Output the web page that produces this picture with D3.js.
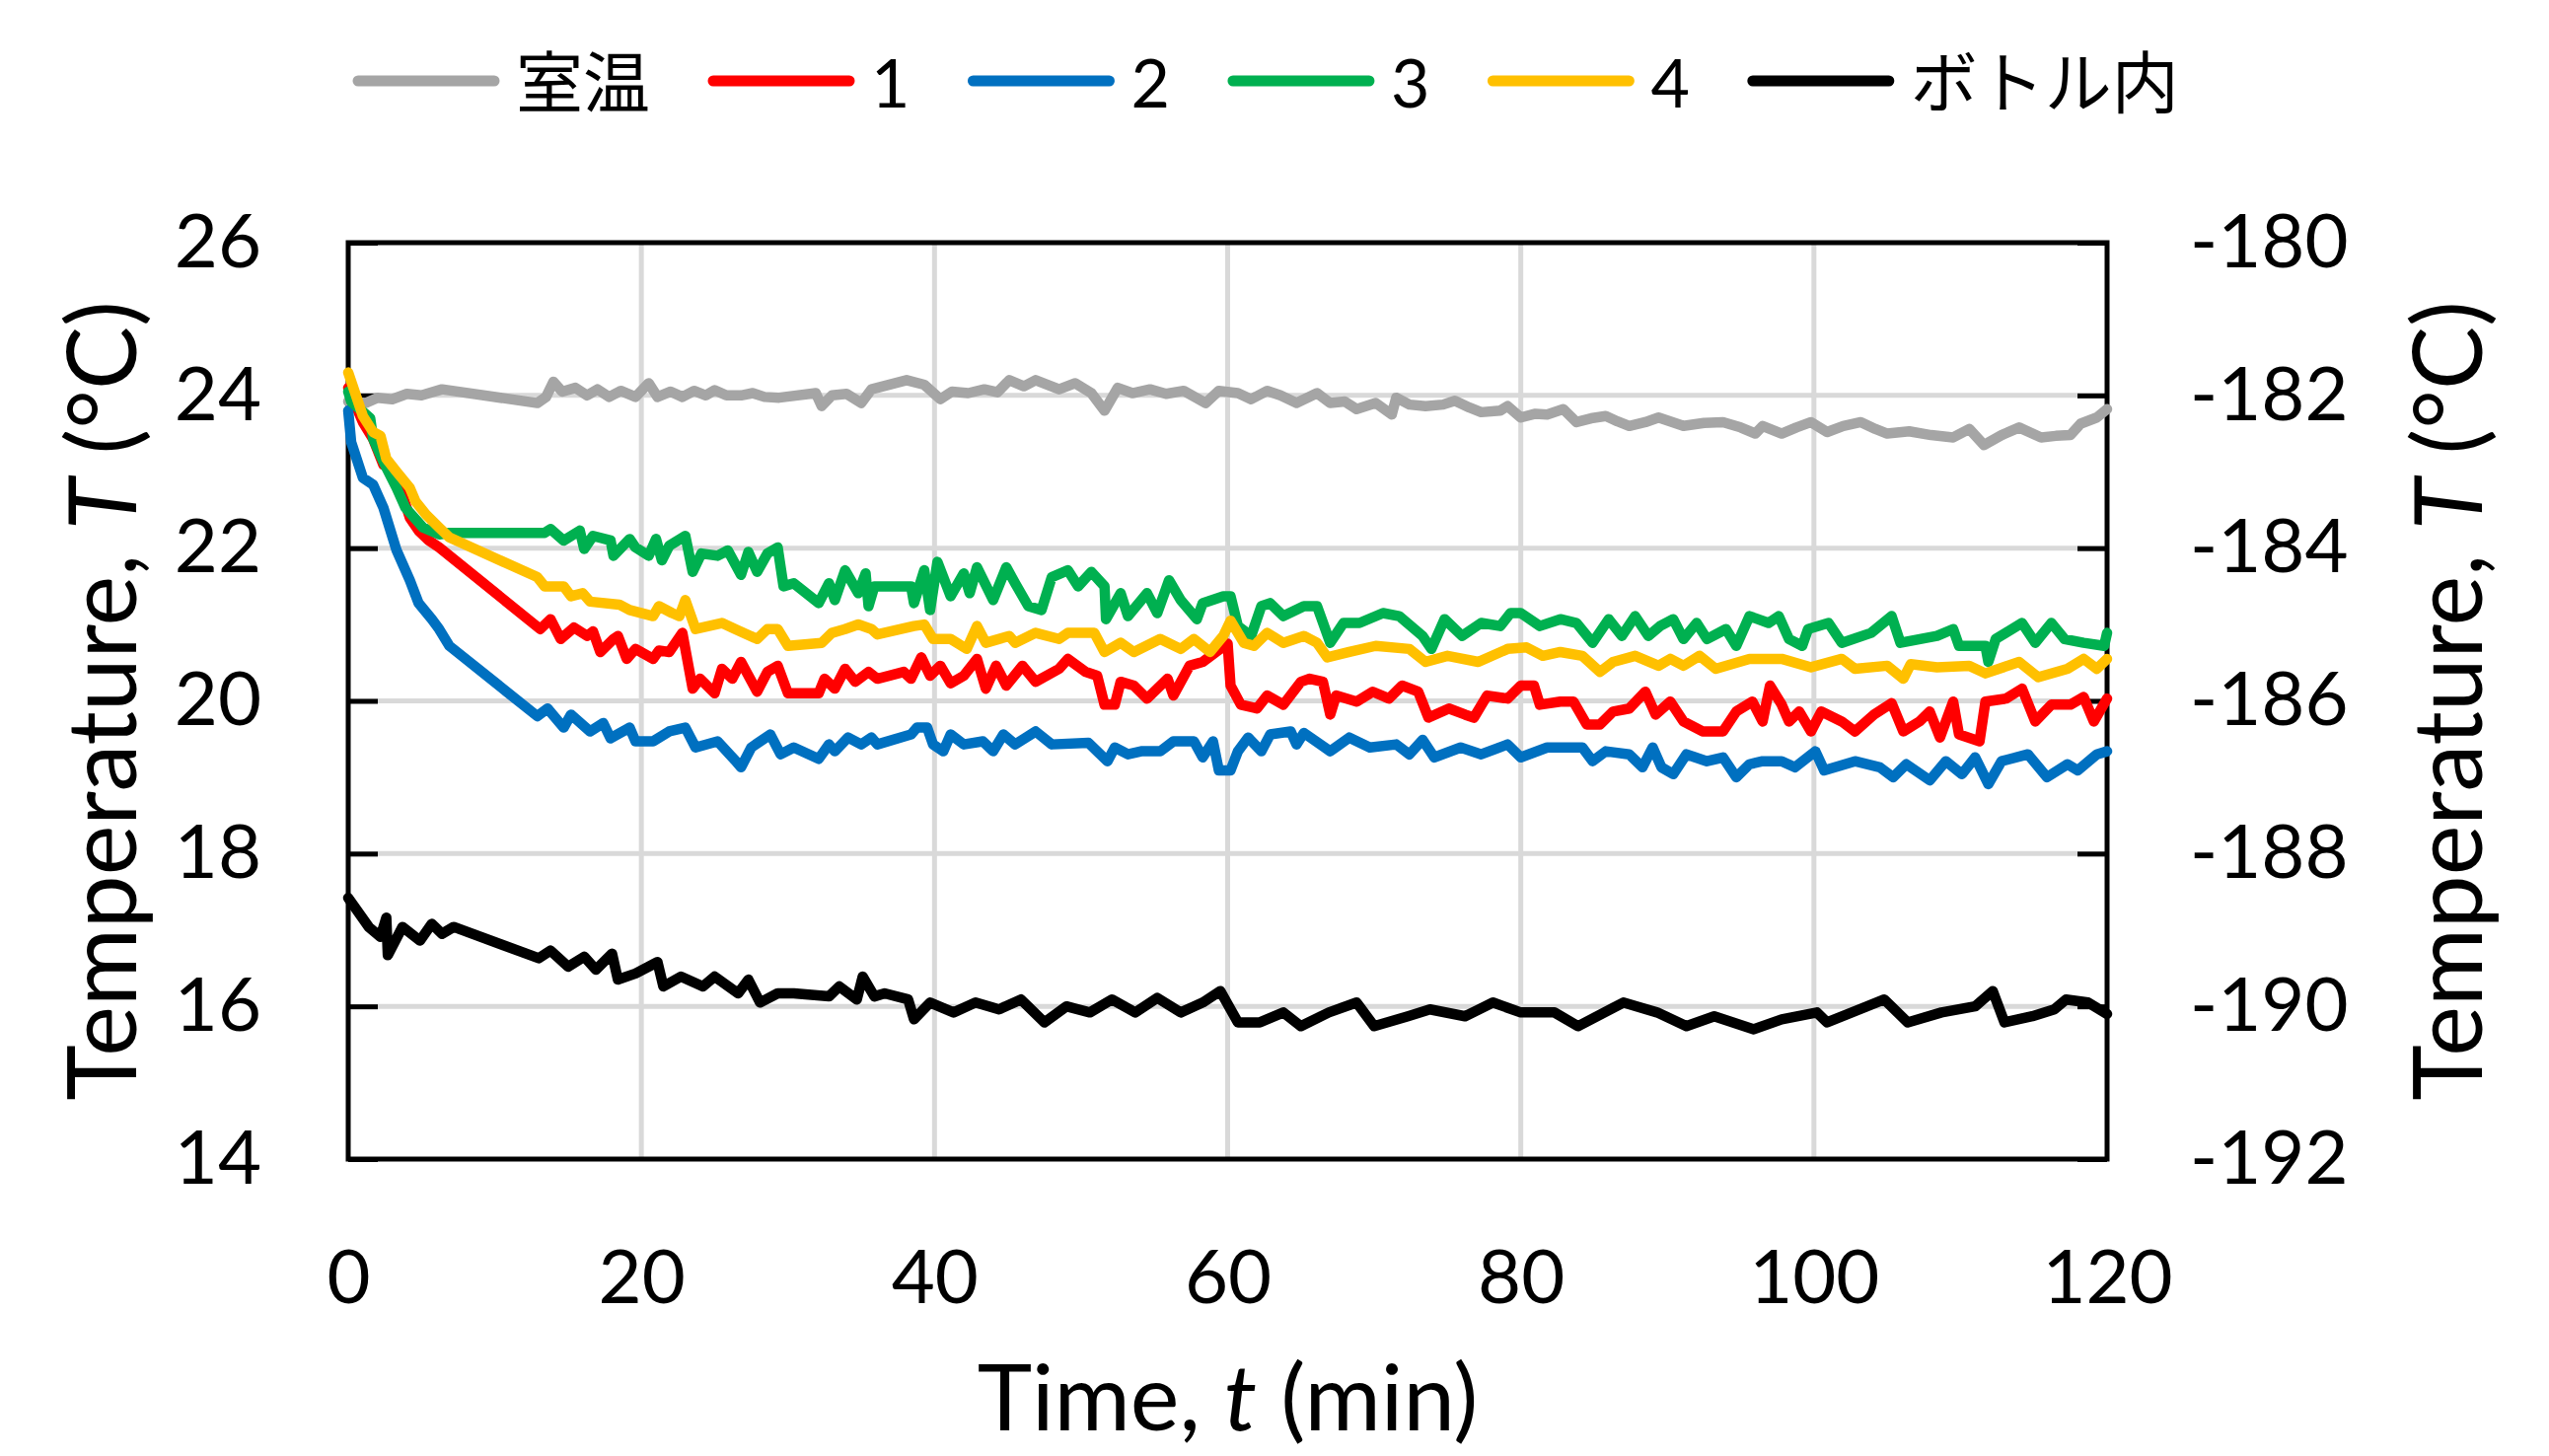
<!DOCTYPE html>
<html>
<head>
<meta charset="utf-8">
<script src="https://cdn.jsdelivr.net/npm/d3@7"></script>
<style>
  html, body { margin: 0; padding: 0; background: #fff; }
  svg { display: block; }
  text { font-family: Lato, "Noto Sans CJK JP", sans-serif; fill: #000; }
</style>
</head>
<body>
<script>
// Readings: [time (min), temperature (°C)]
const seriesNames = ['室温', '1', '2', '3', '4', 'ボトル内'];
const seriesColors = ['#A5A5A5', '#FF0000', '#0070C0', '#00B050', '#FFC000', '#000000'];

const roomTemp = [[0,23.92],[1.2,23.9],[2,23.97],[3,23.95],[4,24.02],[5,24.0],[6.4,24.08],[12.9,23.9],[13.5,23.98],[14,24.18],[14.6,24.05],[15.5,24.1],[16.3,24.0],[17,24.08],[17.8,23.98],[18.6,24.06],[19.6,23.98],[20.5,24.16],[21.1,23.98],[22,24.05],[22.8,23.98],[23.6,24.06],[24.4,24.0],[25,24.07],[25.8,24.0],[26.8,24.0],[27.6,24.03],[28.4,23.98],[29.4,23.97],[31.9,24.03],[32.3,23.86],[33,24.0],[34,24.02],[35,23.9],[35.7,24.08],[38.1,24.2],[39.3,24.14],[40.4,23.95],[41.2,24.05],[42.3,24.03],[43.4,24.08],[44.3,24.04],[45.1,24.2],[46.1,24.12],[46.9,24.2],[48.5,24.08],[49.6,24.16],[50.7,24.03],[51.6,23.8],[52.5,24.1],[53.5,24.03],[54.7,24.08],[55.8,24.02],[57,24.06],[58.5,23.9],[59.4,24.06],[60.7,24.03],[61.6,23.95],[62.7,24.06],[63.6,24.0],[64.7,23.9],[66.1,24.03],[67,23.9],[68,23.92],[68.8,23.82],[70.1,23.9],[71.2,23.75],[71.5,23.97],[72.4,23.88],[73.5,23.86],[74.7,23.88],[75.5,23.93],[76.5,23.84],[77.3,23.78],[78.6,23.8],[79.1,23.86],[80,23.71],[81,23.76],[81.8,23.75],[82.9,23.82],[83.8,23.65],[84.8,23.7],[85.8,23.73],[86.6,23.66],[87.4,23.6],[88.5,23.65],[89.4,23.71],[90.2,23.66],[91.1,23.6],[92.5,23.64],[93.8,23.65],[95,23.58],[96,23.5],[96.5,23.6],[97.8,23.5],[98.8,23.58],[99.8,23.65],[100.9,23.52],[102,23.6],[103.2,23.65],[104.2,23.56],[105,23.5],[106.5,23.53],[108,23.48],[109.5,23.45],[110.6,23.56],[111.6,23.35],[112.8,23.48],[114,23.58],[115.5,23.45],[116.5,23.47],[117.5,23.48],[118.2,23.63],[119.3,23.71],[120,23.82]];

const point1 = [[0,24.1],[1,23.65],[1.7,23.43],[2.4,23.09],[3,23.04],[3.7,22.7],[4.2,22.4],[4.8,22.23],[5.5,22.1],[6.2,22.01],[13.1,20.94],[13.8,21.07],[14.5,20.81],[15.4,20.96],[16.3,20.85],[16.7,20.91],[17.2,20.64],[18.1,20.81],[18.4,20.85],[19,20.55],[19.6,20.68],[20.8,20.55],[21.2,20.66],[21.9,20.64],[22.8,20.89],[23.5,20.16],[24,20.29],[25,20.1],[25.5,20.42],[26.2,20.29],[26.8,20.51],[27.9,20.12],[28.6,20.38],[29.3,20.46],[30,20.1],[32.1,20.1],[32.5,20.29],[33.2,20.16],[33.9,20.42],[34.6,20.25],[35.5,20.38],[36.1,20.29],[37.9,20.38],[38.4,20.29],[39.1,20.57],[39.7,20.33],[40.4,20.46],[41.1,20.23],[42,20.33],[42.9,20.55],[43.5,20.16],[44.2,20.46],[44.9,20.2],[46,20.46],[46.9,20.25],[48.5,20.42],[49.1,20.55],[50.3,20.38],[51.1,20.33],[51.6,19.95],[52.3,19.95],[52.7,20.25],[53.6,20.2],[54.5,20.03],[55.9,20.29],[56.3,20.07],[57.4,20.46],[58.3,20.51],[59.2,20.64],[60,20.75],[60.2,20.2],[60.9,19.95],[62,19.9],[62.7,20.07],[63.8,19.95],[65,20.25],[65.6,20.29],[66.5,20.25],[67,19.82],[67.4,20.07],[68.8,19.99],[69.9,20.12],[71,20.03],[71.9,20.2],[73,20.12],[73.7,19.78],[75.1,19.9],[76.2,19.82],[76.8,19.78],[77.7,20.07],[79.1,20.03],[80,20.2],[80.9,20.2],[81.3,19.95],[82.7,19.99],[83.6,19.99],[84.5,19.69],[85.4,19.69],[86.3,19.86],[87.4,19.9],[88.5,20.12],[89.2,19.82],[90.2,19.99],[91.1,19.73],[92.4,19.6],[93.8,19.6],[94.7,19.86],[95.8,19.99],[96.5,19.73],[97,20.2],[97.8,19.95],[98.3,19.73],[99,19.86],[99.8,19.6],[100.5,19.86],[101.9,19.73],[102.8,19.6],[104.1,19.82],[105.3,19.97],[106.1,19.6],[107.2,19.73],[107.9,19.86],[108.6,19.52],[109.5,19.99],[109.9,19.56],[111.3,19.47],[111.7,19.99],[113.1,20.03],[114.2,20.16],[115.1,19.73],[116.2,19.95],[117.5,19.95],[118.4,20.05],[119.1,19.73],[120,20.03]];

const point2 = [[0,23.8],[0.2,23.39],[1,22.92],[1.7,22.83],[2.4,22.53],[3.3,21.97],[4.2,21.58],[4.8,21.28],[5.7,21.07],[6.2,20.94],[6.9,20.72],[12.9,19.8],[13.6,19.9],[14.7,19.65],[15.2,19.82],[16.5,19.6],[17.4,19.71],[17.9,19.51],[19.2,19.65],[19.6,19.47],[20.8,19.47],[21.9,19.6],[23,19.65],[23.7,19.39],[25.2,19.47],[26.4,19.22],[26.8,19.13],[27.5,19.39],[28.8,19.56],[29.5,19.3],[30.4,19.39],[32.1,19.24],[32.8,19.43],[33.2,19.34],[34.1,19.52],[35,19.43],[35.7,19.52],[36.1,19.43],[38.4,19.56],[38.8,19.65],[39.5,19.65],[39.9,19.43],[40.6,19.34],[41.1,19.56],[42,19.43],[43.3,19.47],[44,19.34],[44.7,19.56],[45.5,19.43],[46.9,19.6],[48,19.43],[50.5,19.45],[51.8,19.21],[52.3,19.39],[53.2,19.3],[54.1,19.34],[55.4,19.34],[56.3,19.47],[57.7,19.47],[58.3,19.26],[59,19.47],[59.4,19.09],[60.2,19.09],[60.7,19.34],[61.4,19.52],[62.3,19.34],[62.9,19.56],[64.3,19.6],[64.7,19.43],[65.2,19.58],[67,19.34],[68.3,19.52],[69.7,19.39],[71.5,19.43],[72.4,19.3],[73.3,19.49],[74.1,19.26],[75.9,19.39],[77.3,19.3],[79.1,19.43],[80,19.26],[81.8,19.39],[82.9,19.39],[84.2,19.39],[84.9,19.21],[85.8,19.34],[87.4,19.3],[88.3,19.13],[89,19.39],[89.6,19.13],[90.4,19.04],[91.3,19.3],[92.7,19.21],[93.8,19.26],[94.7,19.0],[95.6,19.17],[96.5,19.21],[97.8,19.21],[98.7,19.13],[100.1,19.34],[100.7,19.09],[102.8,19.21],[104.5,19.13],[105.4,19.0],[106.3,19.17],[107.9,18.96],[109,19.21],[110.1,19.04],[111,19.26],[111.9,18.91],[112.8,19.21],[114.6,19.3],[115.9,19.0],[117.3,19.17],[118,19.09],[119.3,19.3],[120,19.34]];

const point3 = [[0,24.05],[0.2,23.92],[1.5,23.7],[1.7,23.43],[2.4,23.13],[3.3,22.79],[3.9,22.53],[5.1,22.27],[6.2,22.18],[6.9,22.2],[13.4,22.2],[13.8,22.25],[14.7,22.1],[15.8,22.23],[16.1,21.99],[16.7,22.16],[17.9,22.1],[18.1,21.9],[19.2,22.12],[19.6,22.01],[20.5,21.9],[21,22.12],[21.4,21.84],[21.9,22.03],[23,22.16],[23.5,21.69],[24.1,21.93],[25.2,21.9],[25.9,21.97],[26.8,21.65],[27.3,21.95],[27.9,21.69],[28.6,21.93],[29.3,22.01],[29.7,21.5],[30.4,21.54],[32.1,21.28],[32.8,21.54],[33.2,21.32],[33.9,21.71],[34.8,21.41],[35.3,21.67],[35.5,21.24],[35.9,21.5],[38.4,21.5],[38.6,21.28],[39.3,21.71],[39.7,21.19],[40.2,21.82],[41.1,21.37],[42,21.67],[42.4,21.41],[42.9,21.75],[44,21.32],[44.9,21.75],[45.5,21.54],[46.4,21.24],[47.3,21.19],[48,21.62],[49.1,21.71],[49.8,21.5],[50.7,21.69],[51.6,21.5],[51.7,21.07],[52.7,21.41],[53.2,21.11],[54.5,21.41],[55.2,21.15],[56,21.58],[56.8,21.32],[57.9,21.07],[58.3,21.28],[59.7,21.37],[60.2,21.37],[60.7,20.98],[61.6,20.85],[62.3,21.24],[62.9,21.28],[63.8,21.11],[65.2,21.24],[66.1,21.24],[67,20.76],[67.9,21.02],[69,21.02],[70.6,21.15],[71.7,21.11],[73.3,20.85],[73.9,20.68],[74.8,21.07],[76,20.85],[77.3,21.02],[78.6,20.98],[79.3,21.15],[80,21.15],[81.3,20.98],[82.7,21.07],[83.8,21.02],[84.9,20.76],[86,21.07],[86.9,20.85],[87.8,21.11],[88.7,20.85],[89.5,20.98],[90.4,21.07],[91.1,20.81],[92,21.02],[92.7,20.81],[94,20.94],[94.7,20.72],[95.6,21.11],[96.9,21.02],[97.6,21.11],[98.3,20.81],[99.2,20.72],[99.6,20.94],[101,21.02],[101.9,20.76],[103.9,20.89],[105.3,21.11],[105.9,20.76],[108.4,20.85],[109.5,20.94],[109.9,20.72],[111.7,20.72],[111.9,20.51],[112.4,20.81],[114.2,21.02],[115.1,20.76],[116.2,21.02],[117.1,20.81],[118.4,20.76],[119.8,20.72],[120,20.89]];

const point4 = [[0,24.3],[1,23.73],[1.7,23.52],[2.2,23.47],[2.6,23.17],[3.3,23.0],[4.2,22.79],[4.6,22.61],[5.3,22.44],[6.2,22.27],[6.9,22.14],[12.9,21.62],[13.4,21.5],[14.7,21.5],[15.2,21.37],[16,21.41],[16.5,21.3],[18.5,21.26],[19.2,21.19],[20.8,21.11],[21.2,21.24],[22.1,21.15],[22.6,21.11],[23,21.32],[23.7,20.94],[24.6,20.98],[25.5,21.02],[26.4,20.94],[27.9,20.81],[28.6,20.94],[29.3,20.94],[30,20.72],[32.3,20.76],[33,20.89],[33.9,20.94],[34.8,21.0],[35.7,20.94],[36.1,20.87],[38.6,20.98],[39.3,21.0],[39.9,20.81],[41.1,20.81],[42.2,20.68],[42.9,20.98],[43.5,20.76],[45.1,20.85],[45.5,20.76],[46.9,20.89],[48.5,20.81],[49.1,20.89],[50.9,20.89],[51.6,20.64],[52.7,20.76],[53.6,20.64],[55.4,20.81],[56.8,20.68],[57.7,20.81],[58.8,20.64],[59.7,20.85],[60.2,21.05],[61.1,20.76],[61.8,20.72],[62.7,20.89],[63.8,20.76],[65.2,20.85],[66.1,20.76],[66.8,20.57],[68.3,20.64],[70.1,20.72],[72.4,20.68],[73.5,20.51],[75,20.59],[77.1,20.51],[79.1,20.68],[80.4,20.7],[81.5,20.59],[82.7,20.64],[84.2,20.59],[85.4,20.38],[86.3,20.51],[87.8,20.59],[89.4,20.46],[90.2,20.55],[91.1,20.46],[92.2,20.59],[93.3,20.42],[95.6,20.55],[97.8,20.55],[99.8,20.44],[101.9,20.55],[102.8,20.42],[105,20.46],[106.1,20.29],[106.6,20.48],[108.4,20.44],[110.6,20.46],[111.7,20.36],[114,20.51],[115.3,20.31],[117.3,20.42],[118.4,20.55],[119.3,20.42],[120,20.55]];

// inside the bottle: read on the right-hand axis
const bottle = [[0,-188.58],[1.4,-188.96],[2.2,-189.09],[2.6,-188.84],[2.7,-189.33],[3.7,-188.96],[4.9,-189.14],[5.7,-188.92],[6.4,-189.05],[7.2,-188.96],[13,-189.37],[13.8,-189.27],[15,-189.48],[16.1,-189.35],[16.9,-189.52],[18,-189.31],[18.4,-189.65],[19.6,-189.57],[21.1,-189.42],[21.5,-189.74],[22.7,-189.61],[24.2,-189.74],[25,-189.61],[26.6,-189.83],[27.3,-189.65],[28.1,-189.95],[29.3,-189.83],[30.4,-189.83],[32.8,-189.87],[33.5,-189.74],[34.7,-189.91],[35.1,-189.61],[35.9,-189.87],[36.6,-189.83],[38.2,-189.91],[38.6,-190.17],[39.7,-189.95],[41.3,-190.08],[42.8,-189.95],[44.4,-190.04],[45.9,-189.91],[47.5,-190.21],[49,-190.0],[50.6,-190.08],[52.1,-189.91],[53.7,-190.08],[55.2,-189.89],[56.8,-190.08],[58.3,-189.95],[59.5,-189.8],[60.7,-190.21],[62.2,-190.21],[63.8,-190.08],[65,-190.26],[66.9,-190.08],[68.8,-189.95],[70,-190.26],[72.3,-190.13],[73.8,-190.04],[76.2,-190.13],[78.1,-189.95],[80,-190.08],[82.3,-190.08],[83.9,-190.26],[87,-189.95],[89.3,-190.08],[91.3,-190.26],[93.2,-190.13],[95.9,-190.3],[97.8,-190.17],[100.2,-190.08],[100.9,-190.21],[104.8,-189.91],[106.4,-190.21],[108.7,-190.08],[111,-190.0],[112.2,-189.8],[113,-190.21],[114.9,-190.13],[116.4,-190.04],[117.2,-189.91],[118.7,-189.95],[120,-190.1]];

const seriesData = [roomTemp, point1, point2, point3, point4, bottle];
const onRightAxis = [false, false, false, false, false, true];

const xTicks = [0, 20, 40, 60, 80, 100, 120];
const yTicksLeft = [14, 16, 18, 20, 22, 24, 26];
const yTicksRight = [-192, -190, -188, -186, -184, -182, -180];

const WIDTH = 2584, HEIGHT = 1476;
const plot = { left: 353, right: 2136, top: 246, bottom: 1175 };

const svg = d3.select('body').append('svg')
  .attr('width', WIDTH)
  .attr('height', HEIGHT);

const x = d3.scaleLinear().domain([0, 120]).range([plot.left, plot.right]);
const yL = d3.scaleLinear().domain([14, 26]).range([plot.bottom, plot.top]);
const yR = d3.scaleLinear().domain([-192, -180]).range([plot.bottom, plot.top]);

// grid
const grid = svg.append('g').attr('stroke', '#d9d9d9').attr('stroke-width', 5);
grid.selectAll('line.h')
  .data(yTicksLeft.slice(1, -1))
  .join('line')
  .attr('class', 'h')
  .attr('x1', plot.left).attr('x2', plot.right)
  .attr('y1', d => yL(d)).attr('y2', d => yL(d));
grid.selectAll('line.v')
  .data(xTicks.slice(1, -1))
  .join('line')
  .attr('class', 'v')
  .attr('y1', plot.top).attr('y2', plot.bottom)
  .attr('x1', d => x(d)).attr('x2', d => x(d));

// frame + axes
svg.append('rect')
  .attr('x', plot.left).attr('y', plot.top)
  .attr('width', plot.right - plot.left).attr('height', plot.bottom - plot.top)
  .attr('fill', 'none').attr('stroke', '#000').attr('stroke-width', 5);

const tickFont = 76;

const leftAxis = svg.append('g')
  .attr('transform', `translate(${plot.left},0)`)
  .call(d3.axisLeft(yL).tickValues(yTicksLeft).tickSize(-30).tickSizeOuter(0).tickPadding(88).tickFormat(d => String(d)));

const rightAxis = svg.append('g')
  .attr('transform', `translate(${plot.right},0)`)
  .call(d3.axisRight(yR).tickValues(yTicksRight).tickSize(-30).tickSizeOuter(0).tickPadding(84).tickFormat(d => String(d)));

const bottomAxis = svg.append('g')
  .attr('transform', `translate(0,${plot.bottom})`)
  .call(d3.axisBottom(x).tickValues(xTicks).tickSize(0).tickSizeOuter(0).tickPadding(92).tickFormat(d => String(d)));

for (const ax of [leftAxis, rightAxis, bottomAxis]) {
  ax.select('.domain').remove();
  ax.selectAll('.tick line').attr('stroke', '#000').attr('stroke-width', 5);
  ax.selectAll('.tick text')
    .attr('font-size', tickFont)
    .style('font-family', 'Lato, sans-serif');
}

// data lines
const lines = svg.append('g')
  .attr('fill', 'none')
  .attr('stroke-width', 10.5)
  .attr('stroke-linejoin', 'round')
  .attr('stroke-linecap', 'round');

seriesData.forEach((data, i) => {
  const yScale = onRightAxis[i] ? yR : yL;
  const line = d3.line().x(d => x(d[0])).y(d => yScale(d[1]));
  lines.append('path')
    .datum(data)
    .attr('stroke', seriesColors[i])
    .attr('d', line);
});

// axis titles
function yTitle(cx) {
  const t = svg.append('text')
    .attr('transform', `translate(${cx},${(plot.top + plot.bottom) / 2}) rotate(-90)`)
    .attr('text-anchor', 'middle')
    .attr('dominant-baseline', 'central')
    .attr('font-size', 96);
  t.append('tspan').text('Temperature, ');
  t.append('tspan').attr('font-style', 'italic').text('T');
  t.append('tspan').text(' (°C)');
}
yTitle(100);
yTitle(2478);

const xt = svg.append('text')
  .attr('x', (plot.left + plot.right) / 2)
  .attr('y', 1450)
  .attr('text-anchor', 'middle')
  .attr('font-size', 94);
xt.append('tspan').text('Time, ');
xt.append('tspan').attr('font-style', 'italic').text('t');
xt.append('tspan').text(' (min)');

// legend
const legend = svg.append('g').attr('transform', 'translate(0,82)');
let lx = 363;
seriesNames.forEach((name, i) => {
  legend.append('line')
    .attr('x1', lx).attr('x2', lx + 138)
    .attr('y1', 0).attr('y2', 0)
    .attr('stroke', seriesColors[i])
    .attr('stroke-width', 11)
    .attr('stroke-linecap', 'round');
  const label = legend.append('text')
    .attr('x', lx + 160)
    .attr('y', 0)
    .attr('dominant-baseline', 'central')
    .attr('font-size', 68)
    .text(name);
  lx += 160 + label.node().getComputedTextLength() + 64;
});
</script>
</body>
</html>
